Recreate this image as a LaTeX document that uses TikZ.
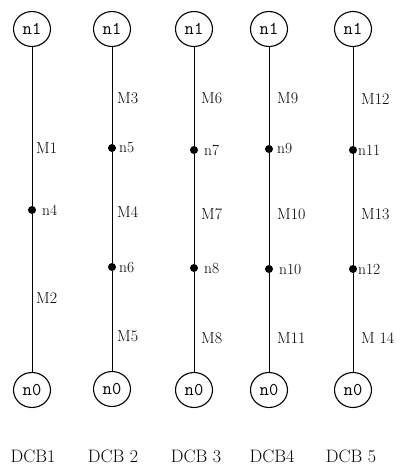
\documentclass[tikz,border=0pt]{standalone}
\usetikzlibrary{shapes.geometric}
\begin{document}
\begin{tikzpicture}[x=1pt,y=-1pt,
  term/.style={draw,line width=1.1pt,ellipse,minimum width=37pt,minimum height=35pt,inner sep=0pt,font=\fontsize{18}{18}\ttfamily},
  jn/.style={circle,fill=black,minimum size=8pt,inner sep=0pt},
  lbl/.style={anchor=west,inner sep=0pt,font=\fontsize{16}{16}\selectfont},
  nlbl/.style={anchor=west,inner sep=0pt,font=\fontsize{15.5}{15.5}\selectfont},
  dcbtitle/.style={font=\fontsize{18}{18}\selectfont},
  wire/.style={line width=1pt}]
\useasboundingbox (0,0) rectangle (404,470);
% column 1
\node[term] (a1) at (32,29) {n1};
\node[term] (a0) at (32,390) {n0};
\node[jn] (n4) at (32,210) {};
\draw[wire] (a1) -- (n4) -- (a0);
\node[lbl] (m1) at (36,148) {M1};
\node[nlbl] (l4) at (42,210) {n4};
\node[lbl] (m2) at (36,298) {M2};
\node[dcbtitle] (d1) at (33,456) {DCB1};
% column 2
\node[term] (b1) at (112,29) {n1};
\node[term] (b0) at (112,389) {n0};
\node[jn] (n5) at (112,148) {};
\node[jn] (n6) at (112,267) {};
\draw[wire] (b1) -- (n5) -- (n6) -- (b0);
\node[lbl] (m3) at (117,98) {M3};
\node[nlbl] (l5) at (119,148) {n5};
\node[lbl] (m4) at (117,212) {M4};
\node[nlbl] (l6) at (119,267) {n6};
\node[lbl] (m5) at (117,336) {M5};
\node[dcbtitle] (d2) at (113,456) {DCB 2};
% column 3
\node[term] (c1) at (194,29) {n1};
\node[term] (c0) at (194,390) {n0};
\node[jn] (n7) at (194,150) {};
\node[jn] (n8) at (194,268) {};
\draw[wire] (c1) -- (n7) -- (n8) -- (c0);
\node[lbl] (m6) at (201,98) {M6};
\node[nlbl] (l7) at (204,150) {n7};
\node[lbl] (m7) at (201,214) {M7};
\node[nlbl] (l8) at (204,268) {n8};
\node[lbl] (m8) at (201,338) {M8};
\node[dcbtitle] (d3) at (196,456) {DCB 3};
% column 4
\node[term] (e1) at (269,29) {n1};
\node[term] (e0) at (269,390) {n0};
\node[jn] (n9) at (269,149) {};
\node[jn] (n10) at (269,269) {};
\draw[wire] (e1) -- (n9) -- (n10) -- (e0);
\node[lbl] (m9) at (277,98) {M9};
\node[nlbl] (l9) at (277,149) {n9};
\node[lbl] (m10) at (277,214) {M10};
\node[nlbl] (l10) at (279,269) {n10};
\node[lbl] (m11) at (277,338) {M11};
\node[dcbtitle] (d4) at (272,456) {DCB4};
% column 5
\node[term] (f1) at (353,29) {n1};
\node[term] (f0) at (353,390) {n0};
\node[jn] (n11) at (353,150) {};
\node[jn] (n12) at (353,269) {};
\draw[wire] (f1) -- (n11) -- (n12) -- (f0);
\node[lbl] (m12) at (361,99) {M12};
\node[nlbl] (l11) at (358,150) {n11};
\node[lbl] (m13) at (361,214) {M13};
\node[nlbl] (l12) at (358,269) {n12};
\node[lbl] (m14) at (361,338) {M 14};
\node[dcbtitle] (d5) at (351,456) {DCB 5};
\end{tikzpicture}
\end{document}
